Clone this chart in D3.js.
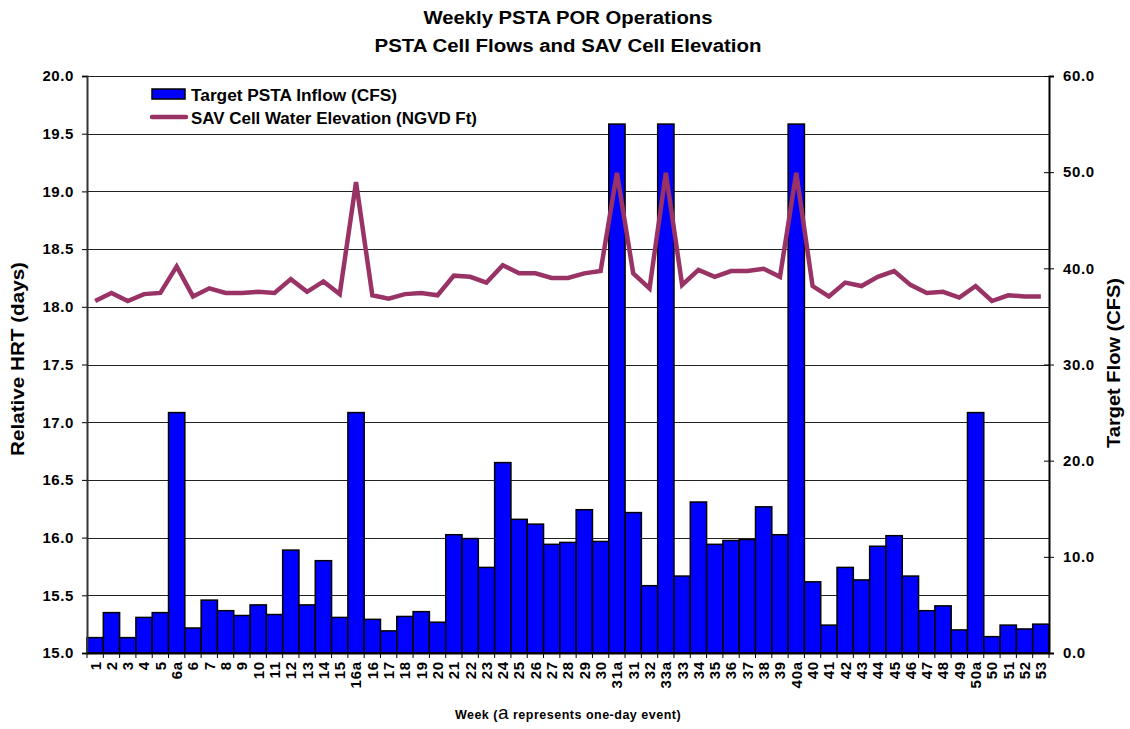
<!doctype html>
<html lang="en">
<head>
  <meta charset="UTF-8">
  <title>Weekly PSTA POR Operations</title>
  <script src="https://d3js.org/d3.v7.min.js"></script>
  <style>
    body { margin: 0; background: #fff; }
    text { font-family: "Liberation Sans", Arial, sans-serif; font-weight: bold; fill: #000; }
  </style>
</head>
<body>
  <div id="myDiv"></div>
  <script type="text/javascript">
    // week labels ("a" = one-day event)
    var weeks = ["1","2","3","4","5","6a","6","7","8","9","10","11","12","13","14","15","16a","16","17","18","19","20",
      "21","22","23","24","25","26","27","28","29","30","31a","31","32","33a","33","34","35","36","37","38","39","40a",
      "40","41","42","43","44","45","46","47","48","49","50a","50","51","52","53"];
    // target PSTA inflow (CFS) - right axis
    var inflow = [1.6,4.2,1.6,3.7,4.2,25,2.6,5.5,4.4,3.9,5.0,4.0,10.7,5.0,9.6,3.7,25,3.5,2.3,3.8,4.3,3.2,
      12.3,11.9,8.9,19.8,13.9,13.4,11.3,11.5,14.9,11.6,55,14.6,7.0,55,8.0,15.7,11.3,11.7,11.8,15.2,12.3,55,
      7.4,2.9,8.9,7.6,11.1,12.2,8.0,4.4,4.9,2.4,25,1.7,2.9,2.5,3.0];
    // SAV cell water elevation (NGVD ft) - left axis
    var elevation = [18.05,18.12,18.05,18.11,18.12,18.35,18.09,18.16,18.12,18.12,18.13,18.12,18.24,18.13,18.22,18.11,19.08,18.10,18.07,18.11,18.12,18.10,
      18.27,18.26,18.21,18.36,18.29,18.29,18.25,18.25,18.29,18.31,19.16,18.29,18.16,19.16,18.19,18.32,18.26,18.31,18.31,18.33,18.26,19.16,
      18.18,18.09,18.21,18.18,18.26,18.31,18.19,18.12,18.13,18.08,18.18,18.05,18.10,18.09,18.09];
    var leftTicks = [15.0,15.5,16.0,16.5,17.0,17.5,18.0,18.5,19.0,19.5,20.0];
    var rightTicks = [0,10,20,30,40,50,60];

    var svg = d3.select("#myDiv").append("svg")
      .attr("width", 1130)
      .attr("height", 729);

    var x = d3.scaleBand().domain(weeks).range([87, 1049]).padding(0);
    var yLeft = d3.scaleLinear().domain([15, 20]).range([653, 76]);
    var yRight = d3.scaleLinear().domain([0, 60]).range([653, 76]);

    // gridlines
    svg.append("g").selectAll("line")
      .data(leftTicks)
      .enter().append("line")
        .attr("x1", 87).attr("x2", 1049)
        .attr("y1", function(d){ return Math.round(yLeft(d)) + 0.5; })
        .attr("y2", function(d){ return Math.round(yLeft(d)) + 0.5; })
        .attr("stroke", "#222")
        .attr("stroke-width", 1);

    // bars
    svg.append("g").selectAll("rect")
      .data(inflow)
      .enter().append("rect")
        .attr("x", function(d, i){ return x(weeks[i]); })
        .attr("y", function(d){ return yRight(d); })
        .attr("width", x.bandwidth())
        .attr("height", function(d){ return yRight(0) - yRight(d); })
        .attr("fill", "#0000ff")
        .attr("stroke", "#000")
        .attr("stroke-width", 1.5);

    // elevation line
    var line = d3.line()
      .x(function(d, i){ return x(weeks[i]) + x.bandwidth() / 2; })
      .y(function(d){ return yLeft(d); });
    svg.append("path")
      .datum(elevation)
      .attr("d", line)
      .attr("fill", "none")
      .attr("stroke", "#993366")
      .attr("stroke-width", 4.5);

    // left axis
    var leftAxis = d3.axisLeft(yLeft).tickValues(leftTicks).tickFormat(d3.format(".1f")).tickSize(5).tickPadding(8);
    var gl = svg.append("g").attr("transform", "translate(87,0)").call(leftAxis);
    gl.selectAll("text").style("font-size", "15px").style("letter-spacing", "0.6px");
    gl.select(".domain").attr("stroke", "#333").attr("stroke-width", 2);

    // right axis, ticks cross the line
    var rightAxis = d3.axisRight(yRight).tickValues(rightTicks).tickFormat(d3.format(".1f")).tickSize(5).tickPadding(9);
    var gr = svg.append("g").attr("transform", "translate(1049,0)").call(rightAxis);
    gr.selectAll(".tick line").attr("x1", -5);
    gr.selectAll("text").style("font-size", "15px").style("letter-spacing", "0.6px");
    gr.select(".domain").attr("stroke", "#000").attr("stroke-width", 2);

    // bottom axis: labels at band centres, ticks at band edges
    var bottomAxis = d3.axisBottom(x).tickSize(0).tickPadding(0);
    var gb = svg.append("g").attr("transform", "translate(0,653)").call(bottomAxis);
    gb.select(".domain").attr("stroke", "#000").attr("stroke-width", 2);
    gb.selectAll("text")
      .style("font-size", "15px")
      .style("letter-spacing", "0.8px")
      .attr("transform", "rotate(-90)")
      .attr("text-anchor", "end")
      .attr("x", -8)
      .attr("y", 0)
      .attr("dy", "0.36em");
    gb.selectAll("line.edge")
      .data(weeks.concat(["end"]))
      .enter().append("line")
        .attr("class", "edge")
        .attr("x1", function(d, i){ return 87 + i * x.step(); })
        .attr("x2", function(d, i){ return 87 + i * x.step(); })
        .attr("y1", 0).attr("y2", 5)
        .attr("stroke", "#000");

    // titles
    svg.append("text").attr("x", 568).attr("y", 24).attr("text-anchor", "middle")
      .attr("textLength", 289).attr("lengthAdjust", "spacingAndGlyphs")
      .style("font-size", "18px").text("Weekly PSTA POR Operations");
    svg.append("text").attr("x", 568).attr("y", 52).attr("text-anchor", "middle")
      .attr("textLength", 387).attr("lengthAdjust", "spacingAndGlyphs")
      .style("font-size", "18px").text("PSTA Cell Flows and SAV Cell Elevation");

    svg.append("text")
      .attr("transform", "translate(24,359) rotate(-90)")
      .attr("text-anchor", "middle")
      .attr("textLength", 194).attr("lengthAdjust", "spacingAndGlyphs")
      .style("font-size", "18px")
      .text("Relative HRT (days)");
    svg.append("text")
      .attr("transform", "translate(1120,363) rotate(-90)")
      .attr("text-anchor", "middle")
      .attr("textLength", 170).attr("lengthAdjust", "spacingAndGlyphs")
      .style("font-size", "18px")
      .text("Target Flow (CFS)");

    var xt = svg.append("text").attr("x", 568).attr("y", 719).attr("text-anchor", "middle")
      .style("font-size", "12.5px").style("letter-spacing", "0.5px");
    xt.append("tspan").text("Week (");
    xt.append("tspan").style("font-size", "19px").style("font-weight", "normal").text("a");
    xt.append("tspan").text(" represents one-day event)");

    // legend
    var legend = svg.append("g");
    legend.append("rect").attr("x", 152).attr("y", 89).attr("width", 33).attr("height", 10)
      .attr("fill", "#0000ff").attr("stroke", "#000").attr("stroke-width", 1.5);
    legend.append("text").attr("x", 191).attr("y", 101)
      .attr("textLength", 206).attr("lengthAdjust", "spacingAndGlyphs")
      .style("font-size", "16px").text("Target PSTA Inflow (CFS)");
    legend.append("line").attr("x1", 152).attr("x2", 186).attr("y1", 117).attr("y2", 117)
      .attr("stroke", "#993366").attr("stroke-width", 4.5).attr("stroke-linecap", "round");
    legend.append("text").attr("x", 191).attr("y", 124)
      .attr("textLength", 286).attr("lengthAdjust", "spacingAndGlyphs")
      .style("font-size", "16px").text("SAV Cell Water Elevation (NGVD Ft)");
  </script>
</body>
</html>
